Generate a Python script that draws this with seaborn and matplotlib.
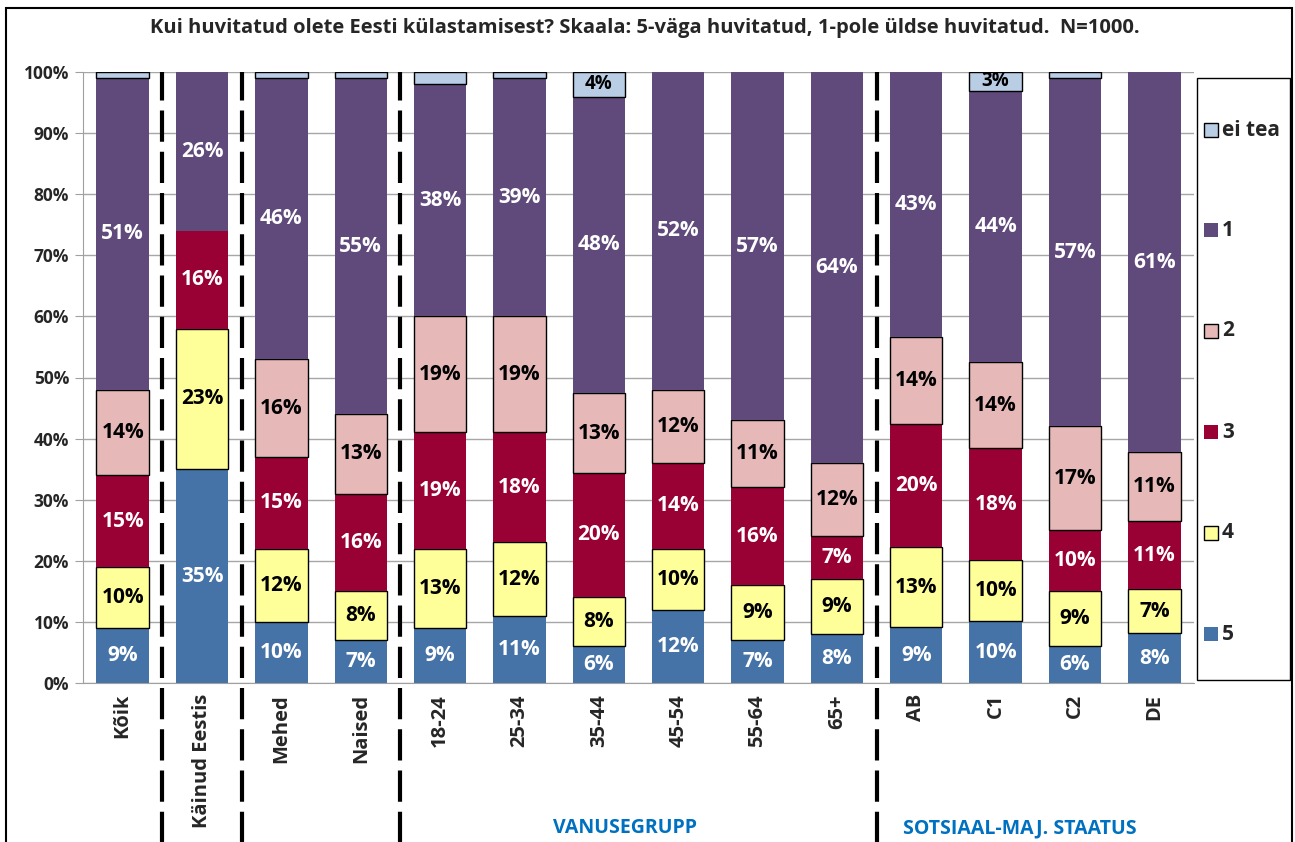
import numpy as np
import pandas as pd
import matplotlib
matplotlib.use("Agg")
import matplotlib.pyplot as plt
import seaborn as sns
from matplotlib.patches import Rectangle

sns.set_style("white")
plt.rcParams["font.family"] = ["Open Sans", "DejaVu Sans"]

categories = ["Kõik", "Käinud Eestis", "Mehed", "Naised", "18-24", "25-34", "35-44",
              "45-54", "55-64", "65+", "AB", "C1", "C2", "DE"]
answers = ["ei tea", "1", "2", "3", "4", "5"]

# percentages as shown on the labels (chart is 100% stacked)
v5 = [9, 35, 10, 7, 9, 11, 6, 12, 7, 8, 9, 10, 6, 8]
v4 = [10, 23, 12, 8, 13, 12, 8, 10, 9, 9, 13, 10, 9, 7]
v3 = [15, 16, 15, 16, 19, 18, 20, 14, 16, 7, 20, 18, 10, 11]
v2 = [14, 0, 16, 13, 19, 19, 13, 12, 11, 12, 14, 14, 17, 11]
v1 = [51, 26, 46, 55, 38, 39, 48, 52, 57, 64, 43, 44, 57, 61]
v_eitea = [1, 0, 1, 1, 2, 1, 4, 0, 0, 0, 0, 3, 1, 0]

values = {"5": v5, "4": v4, "3": v3, "2": v2, "1": v1, "ei tea": v_eitea}
colors = {"5": "#4573A7", "4": "#FFFF99", "3": "#990033", "2": "#E6B9B8",
          "1": "#604A7B", "ei tea": "#B9CDE5"}
text_colors = {"5": "white", "4": "black", "3": "white", "2": "black",
               "1": "white", "ei tea": "black"}
edged = ["4", "2", "ei tea"]

rows = []
for a in answers:
    for c, v in zip(categories, values[a]):
        rows.append({"grupp": c, "vastus": a, "osa": v})
df = pd.DataFrame(rows)

fig = plt.figure(figsize=(12.95, 8.42), dpi=100)
ax = fig.add_axes([83 / 1295, 1 - 683 / 842, (1194 - 83) / 1295, (683 - 72) / 842])

sns.histplot(data=df, x="grupp", hue="vastus", weights="osa", multiple="fill",
             discrete=True, shrink=0.66, hue_order=answers, palette=colors,
             alpha=1, edgecolor="none", linewidth=0, legend=False, ax=ax)

# black outlines for the light segments
edge_rgb = [matplotlib.colors.to_rgb(colors[a]) for a in edged]
for p in ax.patches:
    fc = p.get_facecolor()[:3]
    if p.get_height() > 0 and any(np.allclose(fc, e, atol=0.01) for e in edge_rgb):
        p.set_edgecolor("black")
        p.set_linewidth(1)

# value labels
stack = ["5", "4", "3", "2", "1", "ei tea"]
arr = np.array([values[a] for a in stack], dtype=float)
norm = arr / arr.sum(axis=0)
bottoms = np.vstack([np.zeros(len(categories)), np.cumsum(norm, axis=0)[:-1]])
for i, a in enumerate(stack):
    for j in range(len(categories)):
        v = arr[i, j]
        if v <= 0 or (a == "ei tea" and v < 3):
            continue
        ax.text(j, bottoms[i, j] + norm[i, j] / 2, f"{int(v)}%", ha="center", va="center",
                color=text_colors[a], fontsize=15 if a != "ei tea" else 13.5,
                fontweight="bold", zorder=5)

ax.set_xlim(-0.5, len(categories) - 0.5)
ax.set_ylim(0, 1)
ax.set_yticks(np.arange(0, 1.01, 0.1))
ax.set_yticklabels([f"{int(round(t * 100))}%" for t in np.arange(0, 1.01, 0.1)],
                   fontsize=12.5, fontweight="bold")
ax.set_xticks(range(len(categories)))
ax.set_xticklabels(categories, rotation=90, fontsize=14.5, fontweight="bold")
ax.set_xticks(np.arange(-0.5, len(categories), 1), minor=True)
ax.tick_params(axis="x", which="major", length=0, pad=8)
ax.tick_params(axis="x", which="minor", length=7, color="#A0A0A0", direction="out")
ax.tick_params(axis="y", length=6, color="#A0A0A0", direction="out", left=True, pad=4)
ax.yaxis.grid(True, color="#A6A6A6", linewidth=1)
ax.set_axisbelow(True)
ax.set_xlabel("")
ax.set_ylabel("")
for s in ["top", "right"]:
    ax.spines[s].set_visible(False)
for s in ["left", "bottom"]:
    ax.spines[s].set_color("#A0A0A0")

# group separators
for xb in [0.5, 1.5, 3.5, 9.5]:
    ax.axvline(xb, ymin=-0.3, ymax=1.0, clip_on=False, color="black", lw=3,
               dashes=(7.5, 2.4), zorder=6)

fig.text(645 / 1295, 1 - 28 / 842,
         "Kui huvitatud olete Eesti külastamisest? Skaala: 5-väga huvitatud, 1-pole üldse huvitatud.  N=1000.",
         ha="center", va="center", fontsize=14.5, fontweight="bold")
fig.text(625 / 1295, 1 - 828 / 842, "VANUSEGRUPP", ha="center", va="center",
         fontsize=14, fontweight="bold", color="#0070C0")
fig.text(1020 / 1295, 1 - 828 / 842, "SOTSIAAL-MAJ. STAATUS", ha="center", va="center",
         fontsize=14, fontweight="bold", color="#0070C0")

# legend box
fig.patches.append(Rectangle((1197 / 1295, 1 - 680 / 842), 93 / 1295, 602 / 842,
                             transform=fig.transFigure, fill=False, edgecolor="black", lw=1))
leg_y = [130, 230, 331, 432, 533, 634]
for a, yy in zip(answers, leg_y):
    fig.patches.append(Rectangle((1204 / 1295, 1 - (yy + 7) / 842), 14 / 1295, 14 / 842,
                                 transform=fig.transFigure, facecolor=colors[a],
                                 edgecolor="black" if a in edged else "none", lw=1))
    fig.text(1222 / 1295, 1 - yy / 842, a, ha="left", va="center",
             fontsize=15, fontweight="bold")

# outer frame
fig.patches.append(Rectangle((6 / 1295, -0.1), 1286 / 1295, 1.1 - 8 / 842,
                             transform=fig.transFigure, fill=False, edgecolor="black", lw=1.5))

fig.savefig("out.png", dpi=100)
